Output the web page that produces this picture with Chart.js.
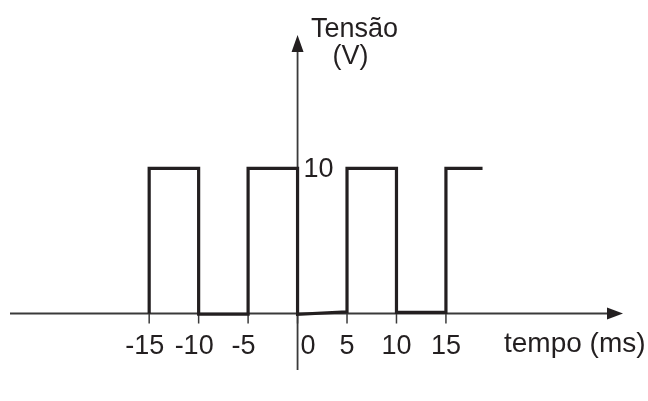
<!DOCTYPE html>
<html>
<head>
<meta charset="utf-8">
<script src="https://cdn.jsdelivr.net/npm/chart.js@4/dist/chart.umd.min.js"></script>
<style>
  html, body { margin: 0; padding: 0; background: #ffffff; }
  #wrap { width: 648px; height: 401px; }
</style>
</head>
<body>
<div id="wrap"><canvas id="c" width="648" height="401"></canvas></div>
<script>
// Square wave: time (ms) against voltage (V)
const time  = [-15, -15, -10, -10, -5, -5, 0, 0,    5,   5, 10,  10,   15, 15, 18.7];
const volts = [  0,  10,  10, -0.05, -0.05, 10, 10, -0.05, 0.12, 10, 10, 0.08, 0.08, 10, 10];

const xTickValues = [-15, -10, -5, 0, 5, 10, 15];
const xTickLabels = ['-15', '-10', '-5', '0', '5', '10', '15'];
const yTickValues = [10];
const yTickLabels = ['10'];

const xTitle = 'tempo (ms)';
const yTitleLines = ['Tensão', '(V)'];

const INK = '#231f20';
const AXIS = '#3a3a3a';
const FONT = '27px "Liberation Sans", Arial, sans-serif';
const TITLE_FONT = '28px "Liberation Sans", Arial, sans-serif';

// Axes through the origin with arrowheads, tick marks and labels
const axesPlugin = {
  id: 'originAxes',
  beforeDatasetsDraw(chart) {
    const { ctx, chartArea: a, scales: { x, y } } = chart;
    const x0 = x.getPixelForValue(0);
    const y0 = y.getPixelForValue(0);
    ctx.save();
    ctx.strokeStyle = AXIS;
    ctx.fillStyle = INK;
    ctx.lineWidth = 1.8;

    // horizontal axis
    ctx.beginPath();
    ctx.moveTo(a.left, y0);
    ctx.lineTo(a.right - 12, y0);
    ctx.stroke();
    ctx.beginPath();
    ctx.moveTo(a.right, y0);
    ctx.lineTo(a.right - 16, y0 - 6);
    ctx.lineTo(a.right - 16, y0 + 6);
    ctx.closePath();
    ctx.fill();

    // vertical axis
    ctx.beginPath();
    ctx.moveTo(x0, a.bottom);
    ctx.lineTo(x0, a.top + 12);
    ctx.stroke();
    ctx.beginPath();
    ctx.moveTo(x0, a.top);
    ctx.lineTo(x0 - 6, a.top + 17);
    ctx.lineTo(x0 + 6, a.top + 17);
    ctx.closePath();
    ctx.fill();

    // tick marks below the time axis
    ctx.lineWidth = 1.5;
    xTickValues.forEach(v => {
      const px = x.getPixelForValue(v);
      ctx.beginPath();
      ctx.moveTo(px, y0);
      ctx.lineTo(px, y0 + 10);
      ctx.stroke();
    });

    // tick labels
    ctx.font = FONT;
    ctx.fillStyle = INK;
    ctx.textBaseline = 'alphabetic';
    xTickValues.forEach((v, i) => {
      const px = x.getPixelForValue(v);
      const label = xTickLabels[i];
      const by = y0 + 40;
      if (v === 0) {
        ctx.textAlign = 'left';
        ctx.fillText(label, px + 3, by);
      } else if (label.startsWith('-')) {
        // centre the digits on the tick, the minus sign hangs to the left
        const digits = label.slice(1);
        const w = ctx.measureText(digits).width;
        ctx.textAlign = 'right';
        ctx.fillText(label, px + w / 2, by);
      } else {
        ctx.textAlign = 'center';
        ctx.fillText(label, px, by);
      }
    });
    yTickValues.forEach((v, i) => {
      const py = y.getPixelForValue(v);
      ctx.textAlign = 'left';
      ctx.fillText(yTickLabels[i], x0 + 6, py + 9);
    });

    // axis titles
    ctx.textAlign = 'left';
    ctx.font = TITLE_FONT;
    ctx.fillText(xTitle, a.right - 119, y0 + 38);
    ctx.font = FONT;
    ctx.textAlign = 'center';
    ctx.fillText(yTitleLines[0], x0 + 57, a.top + 2);
    ctx.fillText(yTitleLines[1], x0 + 53, a.top + 29);
    ctx.restore();
  }
};

new Chart(document.getElementById('c'), {
  type: 'line',
  data: {
    datasets: [{
      data: time.map((t, i) => ({ x: t, y: volts[i] })),
      borderColor: INK,
      borderWidth: 3.2,
      borderJoinStyle: 'miter',
      borderCapStyle: 'butt',
      pointRadius: 0,
      tension: 0,
      fill: false
    }]
  },
  options: {
    responsive: false,
    animation: false,
    devicePixelRatio: 1,
    layout: { padding: { left: 10, right: 25, top: 35, bottom: 31 } },
    plugins: { legend: { display: false }, tooltip: { enabled: false } },
    scales: {
      x: { type: 'linear', display: false, min: -29.07, max: 32.9 },
      y: { type: 'linear', display: false, min: -3.89, max: 19.18 }
    }
  },
  plugins: [axesPlugin]
});
</script>
</body>
</html>
